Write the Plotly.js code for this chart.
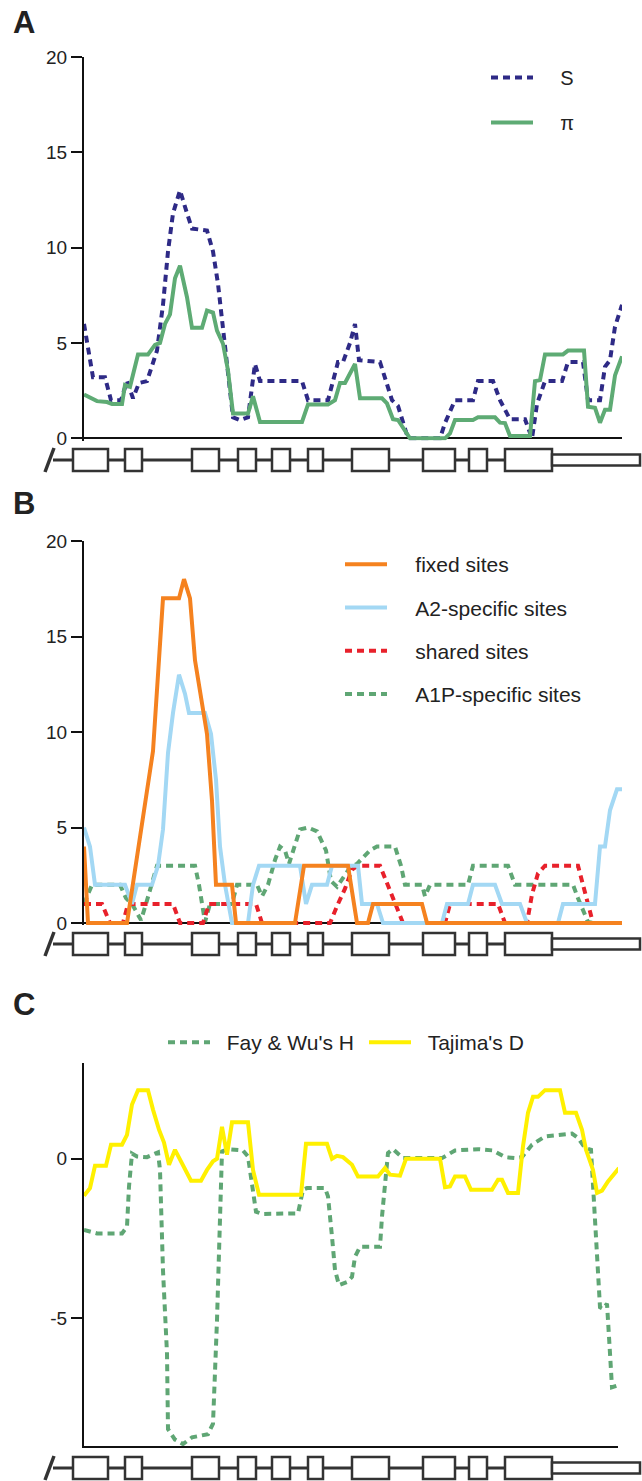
<!DOCTYPE html>
<html><head><meta charset="utf-8">
<script src="https://cdn.plot.ly/plotly-3.0.1.min.js"></script>
<style>html,body{margin:0;padding:0;background:#fff}#chart{width:642px;height:1481px}</style>
</head><body><div id="chart"></div>
<script>
// ---------- Panel A : S and pi ----------
const sX  = [0,9,21,27,37,43,49,55,63,73,79,84,89,96,103,108,123,129,134,138,143,146,149,156,164,168,171,176,218,224,244,249,254,259,266,271,275,296,301,308,314,319,324,356,361,371,389,394,409,416,426,441,448,453,461,478,484,499,504,516,521,526,531,538];
const sY  = [6,3.2,3.2,2,2,3,2.1,2.9,3,4.6,7,9.8,11.8,13,11.8,11,10.9,9.8,8.1,6.2,4.3,2.5,1.1,0.95,1.1,2.7,3.9,3,3,2,2,3,4,4,5,6,4.1,4,3.2,2,1.7,0.8,0,0,0.8,2,2,3,3,2,1,1,0,1.8,3,3,4,4,2,2,3.75,4.1,5.85,7];
const piX = [0,13,23,28,38,41,46,54,64,71,76,81,86,91,96,103,108,118,123,129,133,139,144,149,164,169,176,218,224,244,251,256,261,271,276,298,303,309,314,321,326,361,366,371,389,394,411,416,421,426,446,451,456,461,479,484,500,504,511,516,521,526,531,538];
const piY = [2.3,1.95,1.9,1.8,1.8,2.8,2.7,4.4,4.4,4.9,5.0,6.0,6.5,8.4,9.05,7.4,5.8,5.8,6.7,6.6,5.65,4.96,3.56,1.3,1.3,2.2,0.86,0.86,1.78,1.78,2.0,2.9,2.9,3.9,2.1,2.1,1.83,1.0,0.96,0.35,0,0,0.26,0.96,0.96,1.1,1.1,0.82,0.8,0.12,0.12,3.0,3.05,4.4,4.4,4.6,4.6,1.66,1.6,0.82,1.5,1.5,3.3,4.3];

// ---------- Panel B : site classes ----------
const fixX = [0,4,43,49,58,64,69,79,95,100,106,111,116,123,128,132,148,152,211,220,264,273,284,289,338,343,538];
const fixY = [4,0,0,2,5,7.1,9,17,17,18,17,13.75,12,9.9,6.4,2,2,0,0,3,3,0,0,1,1,0,0];
const a2X  = [0,6,11,41,48,53,68,74,79,84,89,95,101,105,121,127,132,136,141,148,164,169,175,216,222,228,243,248,274,278,293,299,358,363,384,389,411,418,436,443,474,479,511,516,521,526,533,538];
const a2Y  = [5,4,2,2,1,2,2,3,4.9,8.9,11,13,12,11,11,9.9,7.5,4,2,0,0,2,3,3,1,2,2,3,3,1,1,0,0,1,1,2,2,1,1,0,0,1,1,4,4,5.9,7,7];
const shX  = [0,18,26,39,44,89,96,119,125,172,178,246,254,261,268,274,296,304,311,319,361,366,414,421,443,448,454,461,494,499,506,509,538];
const shY  = [1,1,0,0,1,1,0,0,1,1,0,0,1,1.8,2.8,3,3,2,1,0,0,1,1,0,0,1.5,2.6,3,3,2,0.5,0,0];
const a1X  = [0,8,36,42,48,57,62,67,73,111,115,121,126,148,153,173,178,184,191,196,201,205,209,216,224,233,242,247,253,259,266,273,286,293,311,317,321,338,341,346,384,389,424,431,489,494,499,504,511,538];
const a1Y  = [1,2,2,1.3,1,0.15,1,2,3,3,2,0.05,1,1,2,2,1.4,2,3.3,4,3.8,3.1,3.8,4.9,5,4.8,3.8,2.2,1.9,2.4,2.9,3.1,3.8,4,4,3,2,2,1.4,2,2,3,3,2,2,1.3,0.7,0.05,0,0];

// ---------- Panel C : neutrality tests ----------
const tdX = [0,6,11,22,27,38,43,48,54,64,69,75,80,85,91,99,107,117,123,129,133,138,143,148,164,169,175,217,222,243,248,253,259,268,274,294,301,306,316,322,356,361,366,371,381,387,408,414,418,424,434,439,444,449,454,461,476,481,492,498,502,509,513,518,524,535];
const tdY = [-1.16,-0.92,-0.22,-0.22,0.44,0.44,0.75,1.7,2.15,2.15,1.54,0.91,0.51,-0.19,0.28,-0.24,-0.69,-0.69,-0.35,-0.08,0,1.0,0.13,1.14,1.14,-0.35,-1.13,-1.13,0.47,0.47,0,0.09,0.05,-0.19,-0.56,-0.56,-0.29,-0.5,-0.53,0,0,-0.89,-0.87,-0.56,-0.56,-0.97,-0.97,-0.66,-0.66,-1.07,-1.07,0.39,1.44,1.94,1.94,2.15,2.15,1.44,1.44,0.91,0.28,-0.35,-1.07,-1.0,-0.71,-0.29];
const fwX = [0,13,38,43,45,48,53,63,74,76,79,83,84,91,99,108,124,129,133,135,138,144,159,164,168,172,178,214,219,223,241,244,248,251,255,263,268,271,276,296,298,301,304,309,319,358,371,394,409,421,431,438,448,461,474,488,494,501,507,509,513,516,519,523,526,528,534];
const fwY = [-2.23,-2.34,-2.34,-2.13,-0.87,0.16,0.07,0.05,0.2,-0.35,-3.5,-6.1,-8.47,-8.8,-8.94,-8.73,-8.63,-8.3,-5.06,-2.44,0.23,0.3,0.26,0.07,-0.87,-1.66,-1.73,-1.71,-0.97,-0.92,-0.92,-1.18,-2.44,-3.49,-3.96,-3.86,-3.7,-3.07,-2.76,-2.76,-1.81,-0.66,0.18,0.3,0.02,0.02,0.26,0.3,0.26,0.05,0.02,0.05,0.44,0.7,0.75,0.79,0.65,0.34,0.28,-0.87,-2.97,-4.65,-4.7,-4.54,-6.1,-7.16,-7.1];

// ---------- Gene model (same position units) ----------
const exonStart = [-11,41,108,154,188,224,268,339,385,421];
const exonEnd   = [24,58,135,172,206,239,305,371,403,468];
const utrStart = 468, utrEnd = 556;
const geneStart = -31;

// tick labels
const abTicks = [0,5,10,15,20];
const abTickText = ['0','5','10','15','20'];
const cTicks = [-5,0];
const cTickText = ['-5','0'];

const W = 642, H = 1481;
const P = v => 1 - v / H;
const FONT = 'Liberation Sans, Arial, sans-serif';
const DARK = '#222222';
const NB = '\u00a0';
const pad = n => NB.repeat(n);
const LW = 4;
const DASH = '7px,5px';

const traces = [
  {x:sX, y:sY, name:pad(4)+'S', xaxis:'x', yaxis:'y', legend:'legend', legendgroup:'g1', mode:'lines',
   line:{color:'#2e2a86', width:LW, dash:DASH}},
  {x:piX, y:piY, name:pad(4)+'π', xaxis:'x', yaxis:'y', legend:'legend', legendgroup:'g2', mode:'lines',
   line:{color:'#5eab74', width:LW}},
  {x:a1X, y:a1Y, name:pad(4)+'A1P-specific sites', xaxis:'x2', yaxis:'y2', legend:'legend2', legendgroup:'b4', legendrank:4, mode:'lines',
   line:{color:'#5fa674', width:LW, dash:DASH}},
  {x:shX, y:shY, name:pad(4)+'shared sites', xaxis:'x2', yaxis:'y2', legend:'legend2', legendgroup:'b3', legendrank:3, mode:'lines',
   line:{color:'#e8212b', width:LW, dash:DASH}},
  {x:a2X, y:a2Y, name:pad(4)+'A2-specific sites', xaxis:'x2', yaxis:'y2', legend:'legend2', legendgroup:'b2', legendrank:2, mode:'lines',
   line:{color:'#a3d8f4', width:LW}},
  {x:fixX, y:fixY, name:pad(4)+'fixed sites', xaxis:'x2', yaxis:'y2', legend:'legend2', legendgroup:'b1', legendrank:1, mode:'lines',
   line:{color:'#f5821f', width:LW}},
  {x:fwX, y:fwY, name:pad(2)+"Fay & Wu's H", xaxis:'x3', yaxis:'y3', legend:'legend3', mode:'lines',
   line:{color:'#5fa674', width:LW, dash:DASH}},
  {x:tdX, y:tdY, name:pad(2)+"Tajima's D", xaxis:'x3', yaxis:'y3', legend:'legend3', mode:'lines',
   line:{color:'#fff000', width:LW}},
  {x:[], y:[], xaxis:'x4', yaxis:'y4', showlegend:false, hoverinfo:'skip'}
];

const xdom = [84/W, 622/W];
const xBase = {showline:false, showgrid:false, zeroline:false, ticks:'', showticklabels:false, fixedrange:true};
const yBase = {showline:true, linecolor:'#111', linewidth:2, ticks:'outside', ticklen:11, tickwidth:2, tickcolor:'#111',
  showgrid:false, tickfont:{family:FONT, size:19, color:DARK}, fixedrange:true, layer:'below traces'};

const layout = {
  width:W, height:H, margin:{l:0,r:0,t:0,b:0,autoexpand:false}, paper_bgcolor:'#fff', plot_bgcolor:'rgba(0,0,0,0)',
  font:{family:FONT, color:DARK},
  showlegend:true,
  xaxis: Object.assign({}, xBase, {domain:xdom, range:[0,538], anchor:'y'}),
  yaxis: Object.assign({}, yBase, {domain:[P(440.6), P(57)], range:[-0.12,20], anchor:'x',
     tickvals:abTicks, ticktext:abTickText, zeroline:true, zerolinecolor:'#111', zerolinewidth:2}),
  xaxis2: Object.assign({}, xBase, {domain:xdom, range:[0,538], anchor:'y2'}),
  yaxis2: Object.assign({}, yBase, {domain:[P(925.3), P(541)], range:[-0.12,20], anchor:'x2',
     tickvals:abTicks, ticktext:abTickText, zeroline:true, zerolinecolor:'#111', zerolinewidth:2}),
  xaxis3: Object.assign({}, xBase, {domain:[84/W, 618/W], range:[0,534], anchor:'y3', showline:true, linecolor:'#111', linewidth:2}),
  yaxis3: Object.assign({}, yBase, {domain:[P(1446), P(1063)], range:[-9,3], anchor:'x3',
     tickvals:cTicks, ticktext:cTickText, zeroline:false}),
  xaxis4: {domain:[0,1], range:[-84,558], anchor:'y4', visible:false, fixedrange:true},
  yaxis4: {domain:[0,0.01], range:[0,1], anchor:'x4', visible:false, fixedrange:true},
  legend: {x:486/W, y:P(58), xanchor:'left', yanchor:'top', bgcolor:'rgba(0,0,0,0)',
     font:{family:FONT, size:20, color:DARK}, itemwidth:42, tracegroupgap:16, traceorder:'grouped'},
  legend2: {x:340/W, y:P(544), xanchor:'left', yanchor:'top', bgcolor:'rgba(0,0,0,0)',
     font:{family:FONT, size:21, color:DARK}, itemwidth:42, tracegroupgap:13, traceorder:'grouped'},
  legend3: {x:163/W, y:P(1022), xanchor:'left', yanchor:'top', orientation:'h', bgcolor:'rgba(0,0,0,0)',
     font:{family:FONT, size:21, color:DARK}, itemwidth:42, entrywidth:144, entrywidthmode:'pixels'},
  annotations: [
    {text:'<b>A</b>', x:24/W, y:P(22), xref:'paper', yref:'paper', showarrow:false, xanchor:'center', yanchor:'middle', font:{family:FONT, size:31, color:DARK}},
    {text:'<b>B</b>', x:24/W, y:P(503), xref:'paper', yref:'paper', showarrow:false, xanchor:'center', yanchor:'middle', font:{family:FONT, size:31, color:DARK}},
    {text:'<b>C</b>', x:24/W, y:P(1004), xref:'paper', yref:'paper', showarrow:false, xanchor:'center', yanchor:'middle', font:{family:FONT, size:31, color:DARK}}
  ],
  shapes: []
};

// gene models below each panel
const geneCenters = [460, 944, 1468];
const GC = '#333333';
geneCenters.forEach(c => {
  layout.shapes.push({type:'line', xref:'x4', yref:'paper', x0:geneStart, x1:utrStart, y0:P(c), y1:P(c), line:{color:GC, width:3}});
  layout.shapes.push({type:'line', xref:'x4', yref:'paper', x0:geneStart-8, x1:geneStart+1, y0:P(c+12), y1:P(c-12), line:{color:GC, width:3.5}});
  for (let i = 0; i < exonStart.length; i++) {
    layout.shapes.push({type:'rect', xref:'x4', yref:'paper', x0:exonStart[i], x1:exonEnd[i], y0:P(c+11), y1:P(c-11),
      fillcolor:'#fff', line:{color:GC, width:2.5}});
  }
  layout.shapes.push({type:'rect', xref:'x4', yref:'paper', x0:utrStart, x1:utrEnd, y0:P(c+5.5), y1:P(c-5.5),
      fillcolor:'#fff', line:{color:GC, width:2.5}});
});

Plotly.newPlot('chart', traces, layout, {displayModeBar:false, staticPlot:true});
</script></body></html>
